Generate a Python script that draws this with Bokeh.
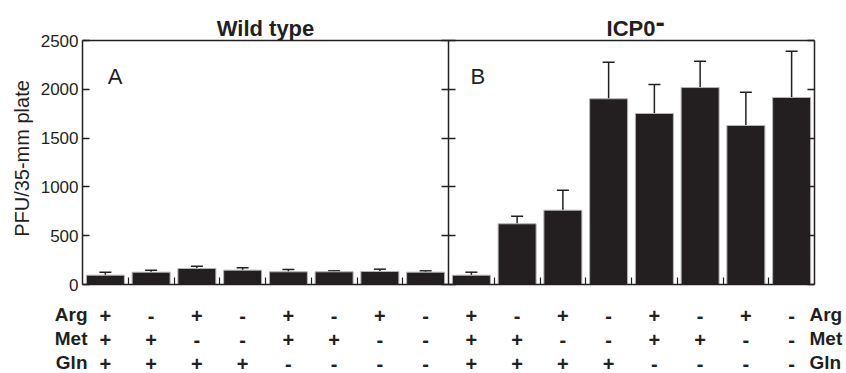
import math
from bokeh.plotting import figure
from bokeh.models import (ColumnDataSource, Whisker, TeeHead, FixedTicker,
                          LinearAxis, Range1d)
from bokeh.core.properties import value
from bokeh.embed import file_html
from bokeh.resources import INLINE

# ---------------- data ----------------
panel_titles = ["Wild type", "ICP0"]
panel_letters = ["A", "B"]
wt_values = [95, 126, 164, 147, 130, 130, 133, 126]
wt_upper = [126, 147, 188, 171, 154, 140, 157, 140]
icp0_values = [95, 622, 761, 1903, 1752, 2018, 1629, 1916]
icp0_upper = [126, 700, 966, 2278, 2049, 2288, 1970, 2390]
arg = ["+", "-", "+", "-", "+", "-", "+", "-"]
met = ["+", "+", "-", "-", "+", "+", "-", "-"]
gln = ["+", "+", "+", "+", "-", "-", "-", "-"]
row_names = ["Arg", "Met", "Gln"]
y_ticks = [0, 500, 1000, 1500, 2000, 2500]
y_label = "PFU/35-mm plate"

# ---------------- layout constants (pixels) ----------------
INK = "#231f20"
FONT = "Liberation Sans"
n = len(wt_values)
XMAX = 2 * n
YMAX = 2500
W, H = 846, 373
ML, MR = 82, 32            # space left / right of the panels
MT, MB = 40, 89            # space above / below the panels
FW, FH = W - ML - MR, H - MT - MB
px_x = XMAX / FW
px_y = YMAX / FH


def sy(pix):
    """data y of a pixel row measured from the top of the picture"""
    return (MT + FH - pix) * px_y


def sx(pix):
    return (pix - ML) * px_x


p = figure(width=W, height=H, output_backend="svg", toolbar_location=None,
           x_range=Range1d(-ML * px_x, XMAX + MR * px_x),
           y_range=Range1d(-MB * px_y, YMAX + MT * px_y),
           min_border=0, x_axis_location=None, y_axis_location=None)
p.grid.visible = False
p.outline_line_color = None
p.background_fill_color = "white"
p.border_fill_color = "white"

# bars
xs = [i + 0.5 for i in range(n)] + [n + i + 0.5 for i in range(n)]
vals = wt_values + icp0_values
uppers = wt_upper + icp0_upper
src = ColumnDataSource(dict(x=xs, top=vals, upper=uppers))
p.vbar(x="x", top="top", bottom=0, width=0.83, source=src,
       fill_color=INK, line_color="#b5b5b5", line_width=1)
p.add_layout(Whisker(source=src, base="x", lower="top", upper="upper",
                     dimension="height", line_color=INK, line_width=1.5,
                     upper_head=TeeHead(size=12, line_color=INK, line_width=1.5),
                     lower_head=None))


def make_axis(ticks, loc, bounds, tin=7, tout=0, labels=False):
    ax = LinearAxis(ticker=FixedTicker(ticks=ticks), fixed_location=loc,
                    bounds=bounds)
    ax.major_tick_in = tin
    ax.major_tick_out = tout
    ax.minor_tick_line_color = None
    ax.axis_line_width = 1.5
    ax.major_tick_line_width = 1.5
    ax.axis_line_color = INK
    ax.major_tick_line_color = INK
    if labels:
        ax.major_label_standoff = 4
        ax.major_label_text_font = FONT
        ax.major_label_text_font_size = "17px"
        ax.major_label_text_color = INK
    else:
        ax.major_label_text_font_size = "0px"
        ax.major_label_text_alpha = 0
    return ax


p.add_layout(make_axis(y_ticks, 0, (0, YMAX), labels=True), "left")
p.add_layout(make_axis(y_ticks, XMAX, (0, YMAX)), "right")
p.add_layout(make_axis(y_ticks, n, (0, YMAX), tin=7, tout=7), "right")
bottom = make_axis([i for i in range(1, XMAX) if i != n], 0, (0, XMAX))
bottom.major_tick_line_width = 1.2
p.add_layout(bottom, "below")
p.add_layout(make_axis([], YMAX, (0, XMAX), tin=0), "above")

# y axis title
p.text(x=[sx(21)], y=[sy(158)], text=[y_label], angle=math.pi / 2,
       text_align="center", text_baseline="middle", text_font=value(FONT),
       text_font_size="20px", text_color=INK)

# panel titles
p.text(x=[n / 2], y=[sy(28)], text=[panel_titles[0]], text_align="center",
       text_baseline="alphabetic", text_font=value(FONT),
       text_font_size="22px", text_font_style="bold", text_color=INK)
p.text(x=[sx(655)], y=[sy(28)], text=[panel_titles[1]], text_align="right",
       text_baseline="alphabetic", text_font=value(FONT),
       text_font_size="22px", text_font_style="bold", text_color=INK)
p.text(x=[sx(655)], y=[sy(22)], text=["-"], text_align="left",
       text_baseline="alphabetic", text_font=value(FONT),
       text_font_size="28px", text_font_style="bold", text_color=INK)

# panel letters
p.text(x=[0.55, n + 0.48], y=[sy(76)] * 2, text=panel_letters,
       text_align="left", text_baseline="alphabetic", text_font=value(FONT),
       text_font_size="22px", text_color=INK)

# condition table
row_base = [314, 338, 362]
rows = [arg, met, gln]
tx, ty, tt = [], [], []
for r, signs in enumerate(rows):
    for panel in range(2):
        for i, s in enumerate(signs):
            tx.append(panel * n + i + 0.5)
            ty.append(sy(row_base[r] + 1))
            tt.append(s)
p.text(x=tx, y=ty, text=tt, text_align="center", text_baseline="alphabetic",
       text_font=value(FONT), text_font_size="20px", text_font_style="bold",
       text_color=INK)
p.text(x=[sx(87)] * 3, y=[sy(b) for b in row_base], text=row_names,
       text_align="right", text_baseline="alphabetic", text_font=value(FONT),
       text_font_size="19px", text_font_style="bold", text_color=INK)
p.text(x=[sx(809)] * 3, y=[sy(b) for b in row_base], text=row_names,
       text_align="left", text_baseline="alphabetic", text_font=value(FONT),
       text_font_size="19px", text_font_style="bold", text_color=INK)

open("out.html", "w").write(file_html(p, INLINE))
